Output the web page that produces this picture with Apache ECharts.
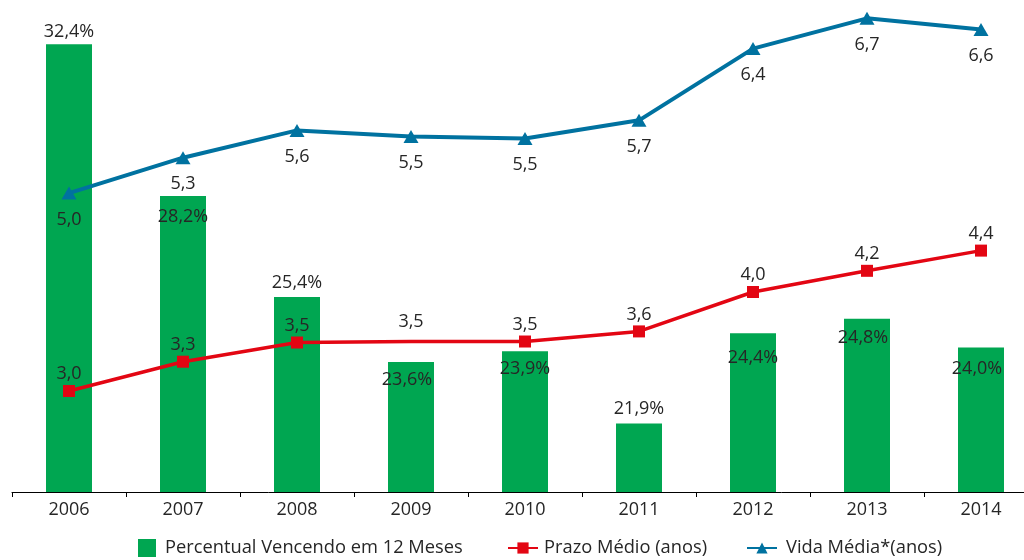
<!DOCTYPE html>
<html>
<head>
<meta charset="utf-8">
<script src="https://cdn.jsdelivr.net/npm/echarts@6/dist/echarts.min.js"></script>
<style>
  html, body { margin: 0; padding: 0; background: #fff; overflow: hidden; }
  /* the plot runs past the right edge in the original, so the canvas is a bit wider than the page */
  #chart { width: 1038px; height: 560px; }
</style>
</head>
<body>
<div id="chart"></div>
<script>
const years = ['2006', '2007', '2008', '2009', '2010', '2011', '2012', '2013', '2014'];
const percentual = [32.4, 28.2, 25.4, 23.6, 23.9, 21.9, 24.4, 24.8, 24.0];
const prazoMedio = [3.0, 3.29, 3.48, 3.49, 3.49, 3.59, 3.98, 4.19, 4.39];
const vidaMedia = [4.96, 5.31, 5.58, 5.52, 5.50, 5.68, 6.39, 6.69, 6.58];

const font = '"Open Sans", sans-serif';
const txt = '#262626';

function fmt(v, suffix) {
  return v.toFixed(1).replace('.', ',') + (suffix || '');
}

// where the bar labels sit (top = above the bar, otherwise inside near the top)
const barLabel = [
  { position: 'top', distance: 3 },
  { position: 'insideTop', distance: 12 },
  { position: 'top', distance: 5 },
  { position: 'insideTop', distance: 9, offset: [-4, 0] },
  { position: 'insideTop', distance: 9 },
  { position: 'top', distance: 6 },
  { position: 'insideTop', distance: 16 },
  { position: 'insideTop', distance: 10, offset: [-4, 0] },
  { position: 'insideTop', distance: 12, offset: [-4, 0] }
];

const legendText = { fontFamily: font, fontSize: 18.3, color: txt };

const myChart = echarts.init(document.getElementById('chart'));
const option = {
  animation: false,
  grid: { left: 12, right: 0, top: 10, bottom: 68 },
  legend: [
    {
      data: [{ name: 'Percentual Vencendo em 12 Meses', icon: 'rect' }],
      left: 138, top: 539, padding: 0,
      itemWidth: 18, itemHeight: 18,
      textStyle: Object.assign({ padding: [0, 0, 0, 4] }, legendText)
    },
    {
      data: ['Prazo Médio (anos)'],
      left: 507, top: 539, padding: 0,
      itemWidth: 30, itemHeight: 14,
      textStyle: Object.assign({ padding: [0, 0, 0, 1] }, legendText)
    },
    {
      data: ['Vida Média*(anos)'],
      left: 746, top: 539, padding: 0,
      itemWidth: 30, itemHeight: 14,
      textStyle: Object.assign({ padding: [0, 0, 0, 4] }, legendText)
    }
  ],
  xAxis: {
    type: 'category',
    data: years,
    boundaryGap: true,
    axisLine: { lineStyle: { color: '#000', width: 1 } },
    axisTick: { show: true, length: 5, lineStyle: { color: '#000' } },
    axisLabel: { fontFamily: font, fontSize: 18, color: txt, margin: 9 }
  },
  yAxis: [
    { type: 'value', min: 20, max: 20 + 482 / 36.1, show: false, splitLine: { show: false } },
    { type: 'value', min: 2, max: 2 + 482 / 101, show: false, splitLine: { show: false } }
  ],
  series: [
    {
      name: 'Percentual Vencendo em 12 Meses',
      type: 'bar',
      yAxisIndex: 0,
      barWidth: 46,
      itemStyle: { color: '#00a651' },
      z: 1,
      label: {
        show: true,
        fontFamily: font, fontSize: 18, color: txt,
        formatter: p => fmt(p.value, '%')
      },
      data: percentual.map((v, i) => ({ value: v, label: barLabel[i] }))
    },
    {
      name: 'Prazo Médio (anos)',
      type: 'line',
      yAxisIndex: 1,
      symbol: 'rect',
      symbolSize: 12,
      color: '#e30613',
      lineStyle: { color: '#e30613', width: 3.5 },
      itemStyle: { color: '#e30613' },
      z: 3,
      label: {
        show: true, position: 'top', distance: 2,
        fontFamily: font, fontSize: 18, color: txt,
        formatter: p => fmt(p.value)
      },
      // 2009 has no marker in the original, only its label
      data: prazoMedio.map((v, i) => i === 3
        ? { value: v, symbolSize: 0.1, label: { distance: 11 } }
        : v)
    },
    {
      name: 'Vida Média*(anos)',
      type: 'line',
      yAxisIndex: 1,
      symbol: 'triangle',
      symbolSize: [15, 13],
      color: '#0072a0',
      lineStyle: { color: '#0072a0', width: 4 },
      itemStyle: { color: '#0072a0' },
      z: 3,
      label: {
        show: true, position: 'bottom', distance: 11,
        fontFamily: font, fontSize: 18, color: txt,
        formatter: p => fmt(p.value)
      },
      data: vidaMedia
    }
  ]
};
myChart.setOption(option);
</script>
</body>
</html>
